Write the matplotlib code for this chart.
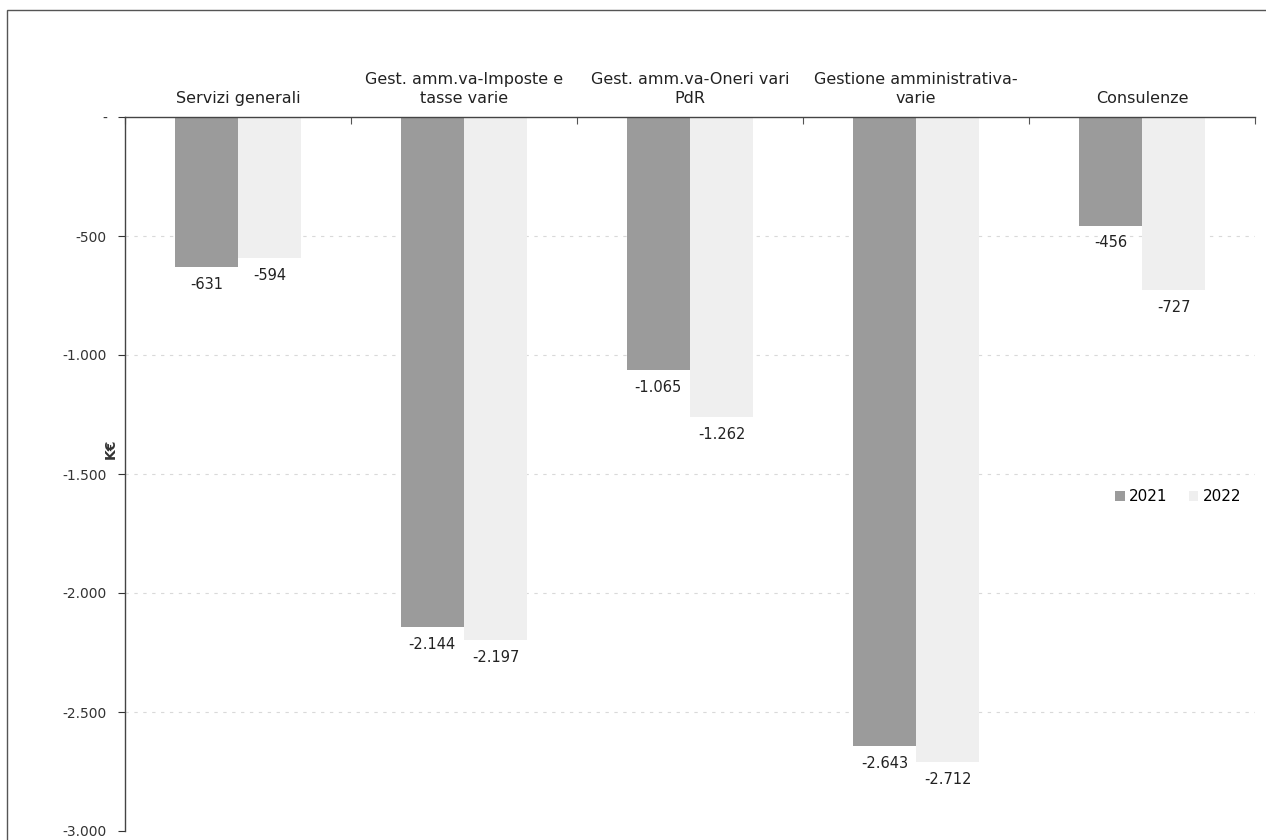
import matplotlib
matplotlib.use("Agg")
import matplotlib.pyplot as plt
import numpy as np
from matplotlib.patches import Rectangle
from matplotlib.ticker import FuncFormatter, FixedLocator

categories = ["Servizi generali", "Gest. amm.va-Imposte e\ntasse varie",
              "Gest. amm.va-Oneri vari\nPdR", "Gestione amministrativa-\nvarie",
              "Consulenze"]
v2021 = [-631, -2144, -1065, -2643, -456]
v2022 = [-594, -2197, -1262, -2712, -727]
series_names = ["2021", "2022"]
yticks = [0, -500, -1000, -1500, -2000, -2500, -3000]

plt.rcParams['font.family'] = ['DejaVu Sans']
fig = plt.figure(figsize=(12.66, 8.4), dpi=100)
fig.patches.append(Rectangle((7/1266, -0.1), 1.2, 1 - 10/840 + 0.1, transform=fig.transFigure,
                             fill=False, edgecolor='#555555', linewidth=1.0))
ax = fig.add_axes([125/1266, 1 - 831/840, 1130/1266, 714/840])

x = np.arange(len(categories))
w = 0.28
c21 = '#9b9b9b'
c22 = '#efefef'
b1 = ax.bar(x - w/2, v2021, w, color=c21, label=series_names[0], zorder=2)
b2 = ax.bar(x + w/2, v2022, w, color=c22, label=series_names[1], zorder=2)

def fmt(v):
    return f"{v:,.0f}".replace(",", ".")

for bars, vals in ((b1, v2021), (b2, v2022)):
    for rect, v in zip(bars, vals):
        ax.annotate(fmt(v), (rect.get_x() + rect.get_width()/2, v), xytext=(0, -7),
                    textcoords='offset points', ha='center', va='top', fontsize=10.5, color='#222222')

ax.set_xlim(-0.5, len(categories) - 0.5)
ax.set_ylim(-3000, 0)
ax.set_yticks(yticks)
ax.yaxis.set_major_formatter(FuncFormatter(lambda v, p: "-" if v == 0 else fmt(v)))
ax.tick_params(axis='y', direction='out', length=5, labelsize=10, colors='#333333', pad=8)
for t in yticks[1:-1]:
    ax.axhline(t, color='#d9d9d9', linewidth=0.8, linestyle=(0, (3, 5)), zorder=1)

ax.xaxis.tick_top()
ax.xaxis.set_major_locator(FixedLocator(np.arange(len(categories) + 1) - 0.5))
ax.xaxis.set_minor_locator(FixedLocator(x))
ax.set_xticklabels([], minor=False)
ax.set_xticklabels(categories, minor=True, linespacing=1.3)
ax.tick_params(axis='x', which='major', direction='in', length=5, colors='#555555')
ax.tick_params(axis='x', which='minor', length=0, labelsize=11.5, pad=8, labelcolor='#222222')

for s in ('bottom', 'right'):
    ax.spines[s].set_visible(False)
for s in ('top', 'left'):
    ax.spines[s].set_color('#444444')
    ax.spines[s].set_linewidth(1.0)

ax.set_ylabel("K€", fontsize=10, fontweight='bold', labelpad=-2, color='#333333')
ax.yaxis.set_label_coords(-0.006, 0.535)

leg = ax.legend(loc='center right', bbox_to_anchor=(1.0, 0.468), frameon=False, ncol=2,
                fontsize=11, handlelength=0.6, handleheight=0.6, handletextpad=0.3,
                columnspacing=1.4)

fig.savefig("out.png", dpi=100)
